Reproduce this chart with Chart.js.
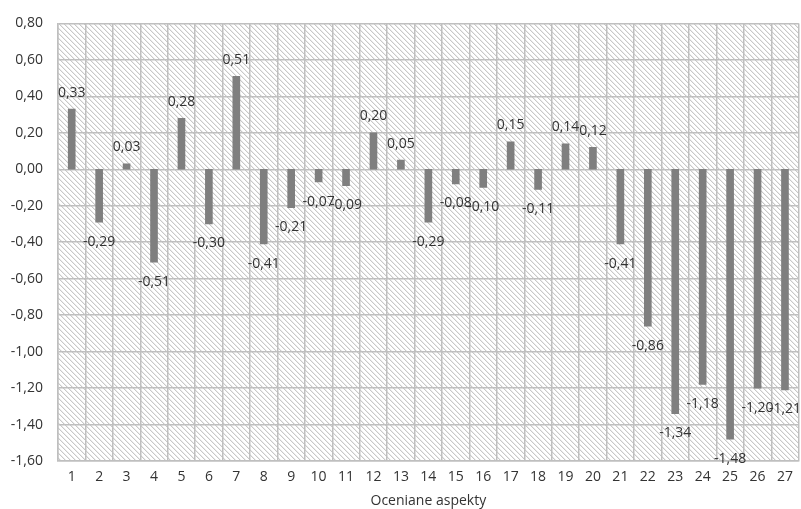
<!DOCTYPE html>
<html>
<head>
<meta charset="utf-8">
<script src="https://cdn.jsdelivr.net/npm/chart.js@4/dist/chart.umd.min.js"></script>
<style>
  html, body { margin: 0; padding: 0; background: #ffffff; }
  #wrap { width: 801px; height: 509px; }
</style>
</head>
<body>
<div id="wrap"><canvas id="c" width="801" height="509"></canvas></div>
<script>
// Aspects rated 1..27 and their mean scores
const aspects = ['1','2','3','4','5','6','7','8','9','10','11','12','13','14','15','16','17','18','19','20','21','22','23','24','25','26','27'];
const scores = [0.33, -0.29, 0.03, -0.51, 0.28, -0.30, 0.51, -0.41, -0.21, -0.07, -0.09, 0.20, 0.05, -0.29, -0.08, -0.10, 0.15, -0.11, 0.14, 0.12, -0.41, -0.86, -1.34, -1.18, -1.48, -1.20, -1.21];
const axisTitle = 'Oceniane aspekty';

const FONT = "'Open Sans', 'DejaVu Sans', sans-serif";
const TEXT = '#333333';
const fmt = v => v.toFixed(2).replace('.', ',');

// diagonal hatch fill for the plot area
function makeHatch() {
  const t = document.createElement('canvas');
  t.width = 5; t.height = 5;
  const g = t.getContext('2d');
  g.fillStyle = '#ffffff';
  g.fillRect(0, 0, 5, 5);
  for (let i = 0; i < 5; i++) {
    g.fillStyle = '#c8c8c8';
    g.fillRect(i, i, 1, 1);
    g.fillStyle = '#ececec';
    g.fillRect((i + 1) % 5, i, 1, 1);
  }
  return g.createPattern(t, 'repeat');
}

const hatchPlugin = {
  id: 'hatch',
  beforeDraw(chart) {
    const { ctx, chartArea: a } = chart;
    ctx.save();
    ctx.fillStyle = makeHatch();
    ctx.fillRect(a.left, a.top, a.right - a.left, a.bottom - a.top);
    ctx.restore();
  }
};

const valueLabels = {
  id: 'valueLabels',
  afterDatasetsDraw(chart) {
    const { ctx } = chart;
    const meta = chart.getDatasetMeta(0);
    ctx.save();
    ctx.font = '14px ' + FONT;
    ctx.fillStyle = TEXT;
    ctx.textAlign = 'center';
    ctx.textBaseline = 'middle';
    meta.data.forEach((bar, i) => {
      const v = scores[i];
      const y = v >= 0 ? bar.y - 16.5 : bar.y + 19.5;
      ctx.fillText(fmt(v), bar.x, y);
    });
    ctx.restore();
  }
};

new Chart(document.getElementById('c'), {
  type: 'bar',
  data: {
    labels: aspects,
    datasets: [{
      data: scores,
      backgroundColor: '#7f7f7f',
      borderWidth: 0,
      barThickness: 7
    }]
  },
  options: {
    responsive: false,
    animation: false,
    devicePixelRatio: 1,
    layout: { padding: { top: 16, right: 1, left: 0, bottom: 0 } },
    plugins: {
      legend: { display: false },
      tooltip: { enabled: false }
    },
    scales: {
      x: {
        offset: true,
        grid: { offset: true, color: '#bfbfbf', lineWidth: 1.5, drawTicks: false },
        border: { color: '#bfbfbf', width: 1.5 },
        ticks: { color: TEXT, font: { family: FONT, size: 14 }, padding: 8, maxRotation: 0, autoSkip: false },
        title: { display: true, text: axisTitle, color: TEXT, font: { family: FONT, size: 14 }, padding: { top: 2, bottom: 0 } },
        afterFit(s) { s.height = 48; }
      },
      y: {
        min: -1.6,
        max: 0.8,
        grid: { color: '#bfbfbf', lineWidth: 1.5, drawTicks: false },
        border: { color: '#bfbfbf', width: 1.5 },
        ticks: {
          stepSize: 0.2,
          color: TEXT,
          font: { family: FONT, size: 14 },
          padding: 15,
          callback: v => fmt(v)
        },
        afterFit(s) { s.width = 58; }
      }
    }
  },
  plugins: [hatchPlugin, valueLabels]
});
</script>
</body>
</html>
